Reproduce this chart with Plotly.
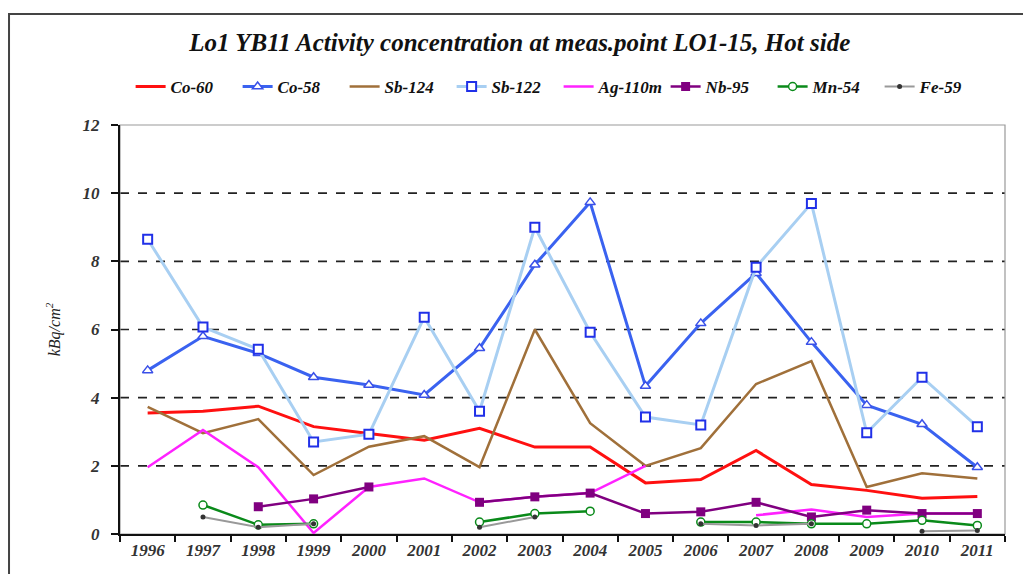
import plotly.graph_objects as go

years = [str(y) for y in range(1996, 2012)]

co60 = [3.55, 3.6, 3.75, 3.15, 2.95, 2.75, 3.1, 2.55, 2.55, 1.5, 1.6, 2.45, 1.45, 1.28, 1.05, 1.1]
co58 = [4.8, 5.8, 5.3, 4.6, 4.37, 4.08, 5.45, 7.9, 9.73, 4.34, 6.18, 7.65, 5.63, 3.78, 3.22, 1.96]
sb124 = [3.73, 2.96, 3.37, 1.73, 2.56, 2.87, 1.96, 6.0, 3.25, 2.0, 2.52, 4.4, 5.07, 1.38, 1.78, 1.63]
sb122 = [8.65, 6.07, 5.42, 2.7, 2.93, 6.36, 3.6, 9.0, 5.92, 3.43, 3.2, 7.83, 9.7, 2.97, 4.6, 3.15]
ag110m = [1.96, 3.05, 1.96, 0.03, 1.38, 1.63, 0.93, 1.09, 1.2, 2.0, None, 0.55, 0.72, 0.5, 0.6, 0.6]
nb95 = [None, None, 0.8, 1.03, 1.38, None, 0.93, 1.09, 1.2, 0.6, 0.65, 0.93, 0.5, 0.7, 0.6, 0.6]
mn54 = [None, 0.85, 0.27, 0.3, None, None, 0.35, 0.6, 0.67, None, 0.35, 0.35, 0.3, 0.3, 0.4, 0.25]
fe59 = [None, 0.5, 0.2, 0.3, None, None, 0.2, 0.5, None, None, 0.3, 0.25, 0.3, None, 0.08, 0.1]

grid_levels = [2, 4, 6, 8, 10]

serif = "Liberation Serif"

fig = go.Figure()

def add_series(name, values, line_color, width, marker=None):
    kw = dict(x=years, y=values, name=name, connectgaps=False,
              line=dict(color=line_color, width=width))
    if marker is None:
        kw["mode"] = "lines"
    else:
        kw["mode"] = "lines+markers"
        kw["marker"] = marker
    fig.add_trace(go.Scatter(**kw))

add_series("Co-60", co60, "#FF1010", 3)
add_series("Co-58", co58, "#3A62F0", 3,
           dict(symbol="triangle-up", size=9, color="white",
                line=dict(color="#3A50E8", width=1.5)))
add_series("Sb-124", sb124, "#A0703A", 2.5)
add_series("Sb-122", sb122, "#A8CFF2", 3,
           dict(symbol="square", size=9, color="white",
                line=dict(color="#2030E8", width=2)))
add_series("Ag-110m", ag110m, "#FF22FF", 2.5)
add_series("Nb-95", nb95, "#800080", 2.5,
           dict(symbol="square", size=9, color="#800080"))
add_series("Mn-54", mn54, "#0A8A1A", 2.5,
           dict(symbol="circle", size=8, color="white",
                line=dict(color="#0A8A1A", width=1.5)))
add_series("Fe-59", fe59, "#999999", 2,
           dict(symbol="circle", size=5, color="#333333"))

shapes = []
for g in grid_levels:
    shapes.append(dict(type="line", xref="paper", yref="y", x0=0, x1=1, y0=g, y1=g,
                       line=dict(color="#222222", width=1.6, dash="dash"), layer="below"))
# plot area frame
shapes.append(dict(type="rect", xref="paper", yref="paper", x0=0, x1=1, y0=0, y1=1,
                   line=dict(color="#999999", width=1.2), layer="below"))
# chart outer frame
shapes.append(dict(type="rect", xref="paper", yref="paper", x0=-0.1254, x1=1.03,
                   y0=-0.12, y1=1.2714, line=dict(color="#444444", width=2)))

tickfont = dict(family=serif, size=17, color="#333333", weight="bold", style="italic")

fig.update_layout(
    width=1023, height=574,
    margin=dict(l=120, r=18, t=125, b=40),
    paper_bgcolor="white", plot_bgcolor="white",
    title=dict(text="Lo1 YB11 Activity concentration at meas.point LO1-15, Hot side",
               x=0.508, xanchor="center", y=1 - 42 / 574, yanchor="middle",
               font=dict(family=serif, size=25, color="#111111", weight="bold", style="italic")),
    legend=dict(orientation="h", x=0.012, xanchor="left", y=1.093, yanchor="middle",
                font=dict(family=serif, size=17, color="#111111", weight="bold", style="italic"),
                bgcolor="rgba(0,0,0,0)", itemwidth=30, tracegroupgap=0,
                entrywidth=62, entrywidthmode="pixels"),
    xaxis=dict(type="category", range=[-0.5, 15.5], showgrid=False, zeroline=False,
               showline=True, linecolor="#111111", linewidth=2,
               ticks="outside", ticklen=6, tickwidth=2, tickcolor="#111111",
               tickson="boundaries", tickfont=tickfont),
    yaxis=dict(range=[0, 12], dtick=2, showgrid=False, zeroline=False,
               showline=True, linecolor="#111111", linewidth=2,
               ticks="outside", ticklen=7, tickwidth=2, tickcolor="#111111",
               tickfont=tickfont, ticklabelstandoff=8,
               title=dict(text="kBq/cm<sup>2</sup>", standoff=18,
                          font=dict(family=serif, size=16, color="#222222", style="italic"))),
    shapes=shapes,
    showlegend=True,
)

fig.write_html("out.html")
